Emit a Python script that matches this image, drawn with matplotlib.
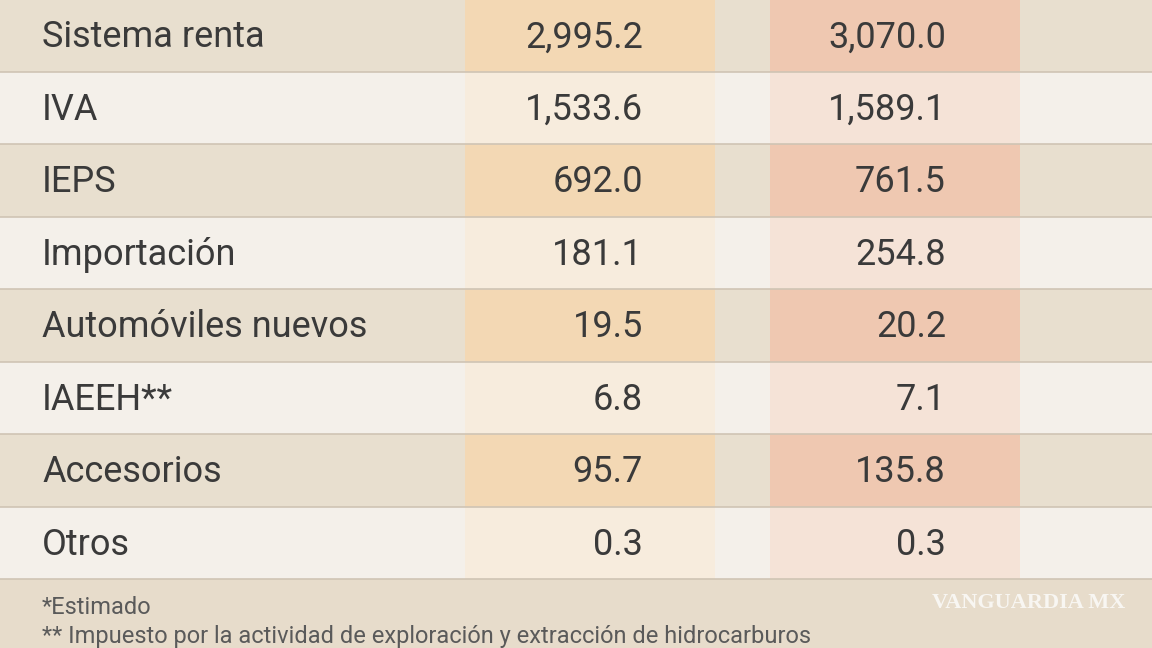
import matplotlib.pyplot as plt
from matplotlib.patches import Rectangle

conceptos = ['Sistema renta', 'IVA', 'IEPS', 'Importación', 'Automóviles nuevos',
             'IAEEH**', 'Accesorios', 'Otros']
col_a = [2995.2, 1533.6, 692.0, 181.1, 19.5, 6.8, 95.7, 0.3]
col_b = [3070.0, 1589.1, 761.5, 254.8, 20.2, 7.1, 135.8, 0.3]
notas = ['*Estimado',
         '** Impuesto por la actividad de exploración y extracción de hidrocarburos']

plt.rcParams['font.family'] = ['Roboto', 'DejaVu Sans']
fig = plt.figure(figsize=(11.52, 6.48), dpi=100)
ax = fig.add_axes([0, 0, 1, 1])
ax.set_xlim(0, 1152)
ax.set_ylim(648, 0)
ax.axis('off')
fig.patch.set_facecolor('#e7dccb')

row_h = 72.5
top = -1
for i, (name, a, b) in enumerate(zip(conceptos, col_a, col_b)):
    y0 = top + i * row_h
    dark = i % 2 == 0
    ax.add_patch(Rectangle((0, y0), 1152, row_h, color='#e8dfcf' if dark else '#f4f0ea', lw=0))
    ax.add_patch(Rectangle((465, y0), 250, row_h, color='#f3d8b4' if dark else '#f7ecdd', lw=0))
    ax.add_patch(Rectangle((770, y0), 250, row_h, color='#efc8b1' if dark else '#f5e3d7', lw=0))
    ax.plot([0, 1152], [y0 + row_h, y0 + row_h], color='#cfc4b4', lw=1.2)
    yc = y0 + row_h / 2 + 2
    ax.text(42, yc, name, fontsize=26, color='#3a3a3a', va='center', ha='left')
    ax.text(643, yc, f'{a:,.1f}', fontsize=26, color='#3a3a3a', va='center', ha='right')
    ax.text(946, yc, f'{b:,.1f}', fontsize=26, color='#3a3a3a', va='center', ha='right')

ax.text(42, 608, notas[0], fontsize=17, color='#5a5a5a', va='center')
ax.text(42, 636, notas[1], fontsize=17, color='#5a5a5a', va='center')
ax.text(1125, 603, 'VANGUARDIA MX', fontsize=16, color='#f8f6f2', va='center', ha='right',
        family='Liberation Serif', weight='bold')

fig.savefig('out.png', dpi=100)
